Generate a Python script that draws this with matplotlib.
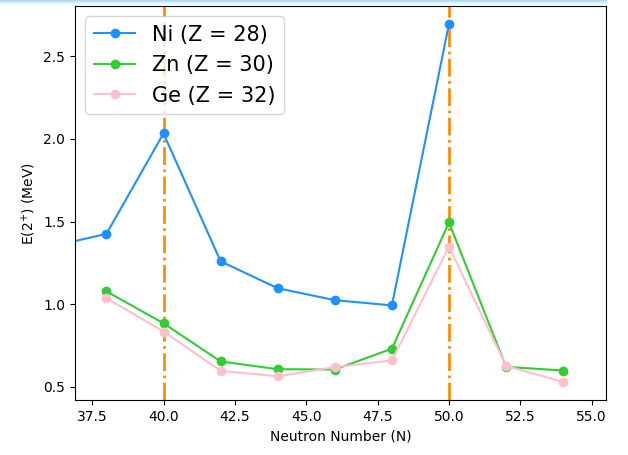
import matplotlib
matplotlib.use("Agg")
import matplotlib.pyplot as plt
import numpy as np

# E(2+) systematics
n_ni = [36, 38, 40, 42, 44, 46, 48, 50]
e_ni = [1.346, 1.425, 2.033, 1.259, 1.096, 1.024, 0.992, 2.696]

n_zn = [38, 40, 42, 44, 46, 48, 50, 52, 54]
e_zn = [1.077, 0.884, 0.653, 0.606, 0.604, 0.730, 1.494, 0.620, 0.598]

n_ge = [38, 40, 42, 44, 46, 48, 50, 52, 54]
e_ge = [1.036, 0.834, 0.596, 0.563, 0.619, 0.659, 1.348, 0.626, 0.528]

magic_n = [40, 50]

fig = plt.figure(figsize=(6.28, 4.55), dpi=100)
ax = fig.add_axes([75 / 628, 55 / 455, 531 / 628, 394 / 455])

for m in magic_n:
    ax.axvline(m, color="darkorange", linestyle="-.", linewidth=2, zorder=1)

ax.plot(n_ni, e_ni, "o-", color="dodgerblue", label="Ni (Z = 28)", zorder=2)
ax.plot(n_zn, e_zn, "o-", color="limegreen", label="Zn (Z = 30)", zorder=2)
ax.plot(n_ge, e_ge, "o-", color="pink", label="Ge (Z = 32)", zorder=2)

ax.set_xlim(36.9, 55.5)
ax.set_xlabel("Neutron Number (N)")
ax.set_ylabel("E(2$^{+}$) (MeV)")
ax.legend(loc="upper left", fontsize=15)

# light blue glow along the top edge of the screenshot
band = fig.add_axes([0, 1 - 7 / 455, 0.965, 7 / 455])
grad = np.linspace(1, 0, 20).reshape(-1, 1)
band.imshow(grad, aspect="auto", cmap=matplotlib.colors.LinearSegmentedColormap.from_list(
    "glow", [(1, 1, 1, 0), (0.62, 0.85, 0.96, 1)]))
band.axis("off")

fig.savefig("out.png", dpi=100)
